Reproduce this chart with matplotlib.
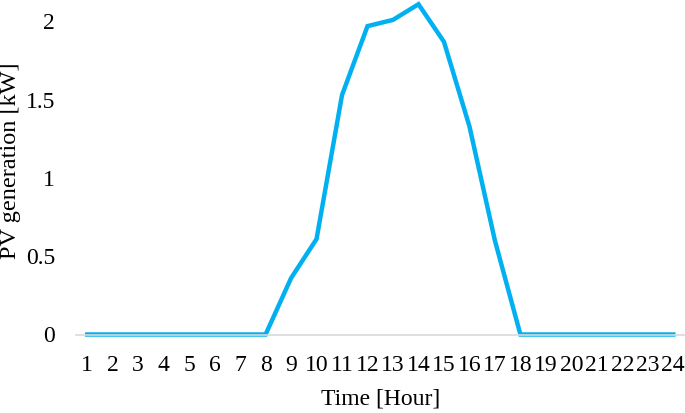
import matplotlib
matplotlib.use("Agg")
import matplotlib.pyplot as plt

hours = list(range(1, 25))
pv_kw = [0, 0, 0, 0, 0, 0, 0, 0, 0.36, 0.61, 1.53, 1.97, 2.01, 2.11,
         1.87, 1.33, 0.60, 0, 0, 0, 0, 0, 0, 0]
y_ticks = [0, 0.5, 1, 1.5, 2]
y_tick_labels = ["0", "0.5", "1", "1.5", "2"]

plt.rcParams['font.family'] = ['Liberation Serif', 'DejaVu Serif']

W, H = 685, 413
fig = plt.figure(figsize=(W/100, H/100), dpi=100)
ax = fig.add_axes([76/W, (H-334.5)/H, 1 - 76/W, 334.5/H])

ax.plot(hours, pv_kw, color='#00B0F0', lw=3.2, solid_joinstyle='miter', clip_on=False)

ax.set_xlim(0.56, 24.46)
ax.set_ylim(0, 2.137)
ax.set_xticks(hours)
ax.set_xticklabels([str(h) for h in hours])
ax.set_yticks(y_ticks)
ax.set_yticklabels(y_tick_labels)

for s in ['top', 'right', 'left']:
    ax.spines[s].set_visible(False)
ax.spines['bottom'].set_color('#D9D9D9')
ax.spines['bottom'].set_linewidth(1.2)
ax.tick_params(axis='both', length=0, labelsize=17, colors='black')
ax.tick_params(axis='x', pad=15)
ax.tick_params(axis='y', pad=15)

ax.set_xlabel('Time [Hour]', fontsize=17, labelpad=9)
fig.text(11/W, 1 - 161/H, 'PV generation [kW]', fontsize=17.5, rotation=90,
         ha='center', va='center')

fig.savefig('out.png', dpi=100)
